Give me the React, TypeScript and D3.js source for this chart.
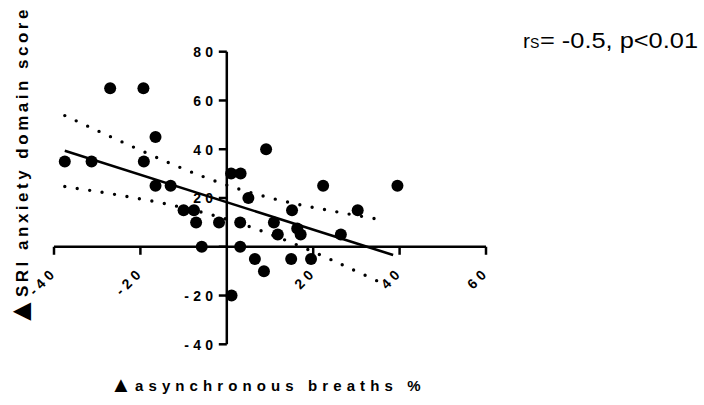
import React from "react";
import * as d3 from "d3";

const pointsX = [-37.5, -31.3, -27, -19.3, -16.5, -19.2, -16.5, -13, -10, -7.6, -7.1, -5.8, -1.8, 1.0, 3.2, 3.1, 3.1, 1.1, 5.0, 6.5, 8.6, 9.1, 10.9, 11.8, 15.1, 14.9, 16.3, 17.1, 19.5, 22.3, 26.4, 30.3, 39.5];
const pointsY = [35, 35, 65, 65, 45, 35, 25, 25, 15, 15, 10, 0, 10, 30, 30, 10, 0, -20, 20, -5, -10, 40, 10, 5, 15, -5, 7.5, 5, -5, 25, 5, 15, 25];

const fitX = [-37.5, 38.5];
const fitY = [39.4, -3.4];

const bandX = [-37.5, -25, -12, 0, 12, 24, 36.5];
const bandUpper = [53.8, 43.6, 33.4, 25.3, 19.2, 14.8, 10.8];
const bandLower = [24.7, 21.2, 16.8, 11.3, 3.8, -5.2, -15.4];

const xTicks = [-40, -20, 20, 40, 60];
const yTicks = [80, 60, 40, 20, -20, -40];
const yTickMarks = [80, 60, 40, 20, 0, -20, -40];

const deltaSymbol = "▲";
const xTitle = "asynchronous breaths %";
const yTitle = "SRI anxiety domain score";
const statR = "r";
const statSub = "S";
const statRest = "= -0.5, p<0.01";

const FONT = "'Liberation Sans', Arial, Helvetica, sans-serif";

export default function App() {
  const x = d3.scaleLinear().domain([-40, 60]).range([54, 486]);
  const y = d3.scaleLinear().domain([-40, 80]).range([344.3, 51.7]);
  const x0 = x(0);
  const y0 = y(0);

  const band = d3
    .line<number>()
    .x((_, i) => x(bandX[i]))
    .y((d) => y(d))
    .curve(d3.curveNatural);

  const fit = d3
    .line<number>()
    .x((_, i) => x(fitX[i]))
    .y((d) => y(d));

  return (
    <svg
      width={704}
      height={405}
      style={{ position: "absolute", left: 0, top: 0, background: "#fff" }}
    >
      {/* axes */}
      <g stroke="#000" strokeWidth={2.5} fill="none">
        <line x1={x(-40)} x2={x(60)} y1={y0} y2={y0} />
        <line x1={x0} x2={x0} y1={y(80)} y2={y(-40)} />
        {xTicks.map((t) => (
          <line key={"xt" + t} x1={x(t)} x2={x(t)} y1={y0} y2={y0 + 8} />
        ))}
        {yTickMarks.map((t) => (
          <line key={"yt" + t} x1={x0 - 8} x2={x0} y1={y(t)} y2={y(t)} />
        ))}
      </g>
      <g fontFamily={FONT} fontWeight="bold" fontSize={14} letterSpacing={4.2} fill="#000">
        {yTicks.map((t) => (
          <text key={"yl" + t} x={x0 - 9.6} y={y(t) + 5.3} textAnchor="end">
            {t}
          </text>
        ))}
        {xTicks.map((t) => (
          <text
            key={"xl" + t}
            textAnchor="end"
            transform={`translate(${x(t) + 4},${273}) rotate(-45)`}
          >
            {t}
          </text>
        ))}
      </g>
      {/* titles */}
      <g fontFamily={FONT} fontWeight="bold" fill="#000">
        <text x={110} y={391.5} fontSize={22}>{deltaSymbol}</text>
        <text x={135} y={391} fontSize={15} letterSpacing={5.1}>
          {xTitle}
        </text>
        <text transform="translate(30.5,327) rotate(-90)" fontSize={31}>
          {deltaSymbol}
        </text>
        <text transform="translate(28,297) rotate(-90)" fontSize={17} letterSpacing={3.5}>
          {yTitle}
        </text>
      </g>
      {/* stat */}
      <g fontFamily={FONT} fill="#000">
        <text x={523} y={48} fontSize={21}>{statR}</text>
        <text x={530} y={48} fontSize={14}>{statSub}</text>
        <text x={540} y={48} fontSize={22} textLength={158} lengthAdjust="spacingAndGlyphs">
          {statRest}
        </text>
      </g>
      {/* confidence bands */}
      <g stroke="#000" strokeWidth={3.4} strokeLinecap="round" strokeDasharray="0 12.6" fill="none">
        <path d={band(bandUpper) || ""} />
        <path d={band(bandLower) || ""} />
      </g>
      {/* fit line */}
      <path d={fit(fitY) || ""} stroke="#000" strokeWidth={2.5} fill="none" />
      {/* points */}
      <g fill="#000">
        {pointsX.map((px, i) => (
          <circle key={i} cx={x(px)} cy={y(pointsY[i])} r={6} />
        ))}
      </g>
    </svg>
  );
}
